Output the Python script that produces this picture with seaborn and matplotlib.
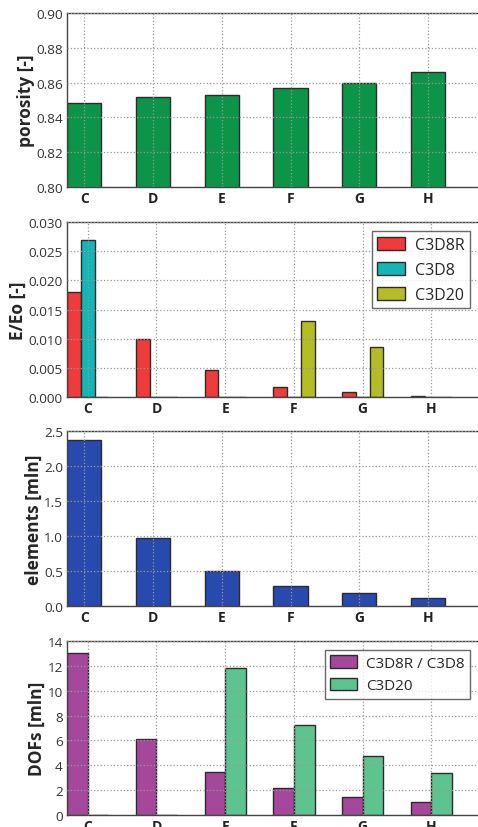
import numpy as np
import pandas as pd
import matplotlib
matplotlib.use("Agg")
import matplotlib.pyplot as plt
import seaborn as sns

# ---- data ----
cases = ["C", "D", "E", "F", "G", "H"]
porosity = [0.848, 0.852, 0.853, 0.857, 0.860, 0.866]

stiff_series = ["C3D8R", "C3D8", "C3D20"]
stiff_c3d8r = [0.0180, 0.0099, 0.0046, 0.0018, 0.0008, 0.0001]
stiff_c3d8 = [0.0270, 0.0, 0.0, 0.0, 0.0, 0.0]
stiff_c3d20 = [0.0, 0.0, 0.0, 0.0130, 0.0085, 0.0]

elements = [2.37, 0.97, 0.50, 0.29, 0.18, 0.12]

dof_series = ["C3D8R / C3D8", "C3D20"]
dof_c3d8 = [13.05, 6.1, 3.5, 2.15, 1.48, 1.07]
dof_c3d20 = [0.0, 0.0, 11.8, 7.25, 4.78, 3.36]

ylab1, ylab2, ylab3, ylab4 = "porosity [-]", "E/Eo [-]", "elements [mln]", "DOFs [mln]"

# ---- style ----
sns.set_style("white")
plt.rcParams["font.family"] = ["Open Sans", "DejaVu Sans"]
plt.rcParams["axes.axisbelow"] = False

fig = plt.figure(figsize=(4.78, 8.28), dpi=100)
W, H = 478.0, 828.0
def add_ax(top, bottom, left=67, right=481):
    return fig.add_axes([left / W, 1 - bottom / H, (right - left) / W, (bottom - top) / H])

ax1 = add_ax(14, 188)
ax2 = add_ax(223, 398)
ax3 = add_ax(432, 607)
ax4 = add_ax(642, 816)

edge = "#2b2b2b"

df1 = pd.DataFrame({"case": cases, "v": porosity})
sns.barplot(data=df1, x="case", y="v", color="#0c9548", saturation=1, width=0.5,
            edgecolor=edge, linewidth=1.0, ax=ax1)

df2 = pd.DataFrame({
    "case": cases * 3,
    "series": [stiff_series[0]] * 6 + [stiff_series[1]] * 6 + [stiff_series[2]] * 6,
    "v": stiff_c3d8r + stiff_c3d8 + stiff_c3d20,
})
sns.barplot(data=df2, x="case", y="v", hue="series", hue_order=stiff_series,
            palette=["#ef3b3b", "#13b5b5", "#b4bd24"], saturation=1, width=0.6,
            edgecolor=edge, linewidth=1.0, ax=ax2)

df3 = pd.DataFrame({"case": cases, "v": elements})
sns.barplot(data=df3, x="case", y="v", color="#2849ad", saturation=1, width=0.5,
            edgecolor=edge, linewidth=1.0, ax=ax3)

df4 = pd.DataFrame({
    "case": cases * 2,
    "series": [dof_series[0]] * 6 + [dof_series[1]] * 6,
    "v": dof_c3d8 + dof_c3d20,
})
sns.barplot(data=df4, x="case", y="v", hue="series", hue_order=dof_series,
            palette=["#a5489c", "#5ec48f"], saturation=1, width=0.6,
            edgecolor=edge, linewidth=1.0, ax=ax4)

specs = [
    (ax1, ylab1, (0.80, 0.90), np.arange(0.80, 0.901, 0.02), "{:.2f}", (-0.25, 5.77)),
    (ax2, ylab2, (0.0, 0.030), np.arange(0.0, 0.0301, 0.005), "{:.3f}", (-0.3, 5.72)),
    (ax3, ylab3, (0.0, 2.5), np.arange(0.0, 2.51, 0.5), "{:.1f}", (-0.25, 5.77)),
    (ax4, ylab4, (0, 14), np.arange(0, 15, 2), "{:.0f}", (-0.3, 5.72)),
]
for ax, lab, ylim, yt, fmt, xl in specs:
    ax.set_ylim(*ylim)
    ax.set_xlim(*xl)
    ax.set_yticks(yt)
    ax.set_yticklabels([fmt.format(t) for t in yt], fontsize=9.7, color="#333333")
    ax.set_xticks(range(len(cases)))
    ax.set_xticklabels(cases, fontsize=10, fontweight="bold", color="#222222")
    ax.set_xlabel("")
    ax.set_ylabel(lab, fontsize=12.5, fontweight="bold", labelpad=1)
    ax.grid(True, linestyle=":", color="#999999", linewidth=0.9)
    for s in ax.spines.values():
        s.set_color("#444444")
        s.set_linewidth(1.0)
    ax.tick_params(axis="both", direction="in", length=4, color="#444444", pad=3)

leg2 = ax2.legend(loc="upper right", fontsize=11.5, frameon=True, fancybox=False,
                  edgecolor="#444444", borderpad=0.35, borderaxespad=0.3,
                  handlelength=1.75, handletextpad=0.6,
                  handleheight=0.9, labelspacing=0.55, bbox_to_anchor=(0.985, 0.975))
leg2.get_frame().set_linewidth(1.0)
leg4 = ax4.legend(loc="upper right", fontsize=11, frameon=True, fancybox=False,
                  edgecolor="#444444", borderpad=0.35, borderaxespad=0.3,
                  handlelength=1.75, handletextpad=0.6,
                  handleheight=0.9, labelspacing=0.45, bbox_to_anchor=(0.985, 0.975))
leg4.get_frame().set_linewidth(1.0)

fig.savefig("out.png", dpi=100)
